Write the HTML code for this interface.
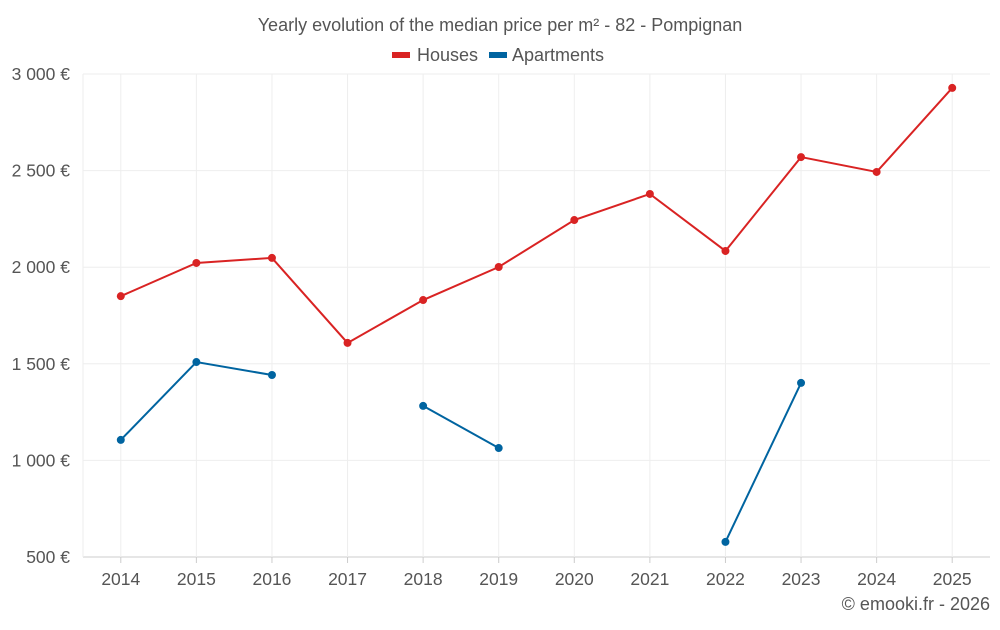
<!DOCTYPE html>
<html><head><meta charset="utf-8"><style>
body{margin:0;background:#fff;font-family:"Liberation Sans",sans-serif}
svg text{font-family:"Liberation Sans",sans-serif;fill:#555}
</style></head><body>
<svg id="c" width="1000" height="625" xmlns="http://www.w3.org/2000/svg">
<text x="500" y="31" text-anchor="middle" font-size="18">Yearly evolution of the median price per m² - 82 - Pompignan</text>
<g>
<rect x="392" y="52" width="18" height="6" fill="#d92323"/>
<text x="417" y="61" font-size="18">Houses</text>
<rect x="489" y="52" width="18" height="6" fill="#0064a0"/>
<text x="512" y="61" font-size="18">Apartments</text>
</g>
<g id="grid"></g><g id="axes"></g><g id="series"></g>
<text x="990" y="610" text-anchor="end" font-size="18">© emooki.fr - 2026</text>
</svg>
<script>
const years=[2014,2015,2016,2017,2018,2019,2020,2021,2022,2023,2024,2025];
const houses=[1850,2022,2048,1608,1830,2001,2244,2379,2084,2570,2493,2928];
const apartments=[1106,1509,1442,null,1282,1064,null,null,578,1401,null,null];
const yTicks=[500,1000,1500,2000,2500,3000];
const yLabels=["500 €","1 000 €","1 500 €","2 000 €","2 500 €","3 000 €"];
const L=83,R=990,T=74,B=557,ns="http://www.w3.org/2000/svg";
const bw=(R-L)/years.length;
const x=i=>L+bw*(i+0.5);
const y=v=>B-(v-500)/2500*(B-T);
function mk(tag,attrs,parent){const e=document.createElementNS(ns,tag);for(const k in attrs)e.setAttribute(k,attrs[k]);document.getElementById(parent).appendChild(e);return e;}
yTicks.forEach((t,i)=>{
 const g=mk('line',{x1:L,x2:R,y1:y(t),y2:y(t),stroke:i==0?'#ccc':'#eee'},'grid');
 
 
 const tx=mk('text',{x:70,y:y(t)+6,'text-anchor':'end','font-size':17.5},'axes');tx.textContent=yLabels[i];
 
 
});
const lg=mk('line',{x1:L,x2:L,y1:T,y2:B,stroke:'#eee'},'grid');


years.forEach((yr,i)=>{
 const g=mk('line',{x1:x(i),x2:x(i),y1:T,y2:B,stroke:'#eee'},'grid');
 
 
 const tk=mk('line',{x1:x(i),x2:x(i),y1:B,y2:B+6,stroke:'#ccc'},'axes');
 
 
 const tx=mk('text',{x:x(i),y:585,'text-anchor':'middle','font-size':17.5},'axes');tx.textContent=yr;
 
 
});
function draw(vals,color,name){
 let d='',pen=false;
 vals.forEach((v,i)=>{if(v==null){pen=false;return;}d+=(pen?'L':'M')+x(i)+' '+y(v)+' ';pen=true;});
 const p=mk('path',{d:d,fill:'none',stroke:color,'stroke-width':2},'series');
 
 
 vals.forEach((v,i)=>{if(v==null)return;
  const c=mk('circle',{cx:x(i),cy:y(v),r:4,fill:color},'series');
  
  
 });
}
draw(houses,'#d92323','houses');
draw(apartments,'#0064a0','apartments');
</script>
</body></html>
